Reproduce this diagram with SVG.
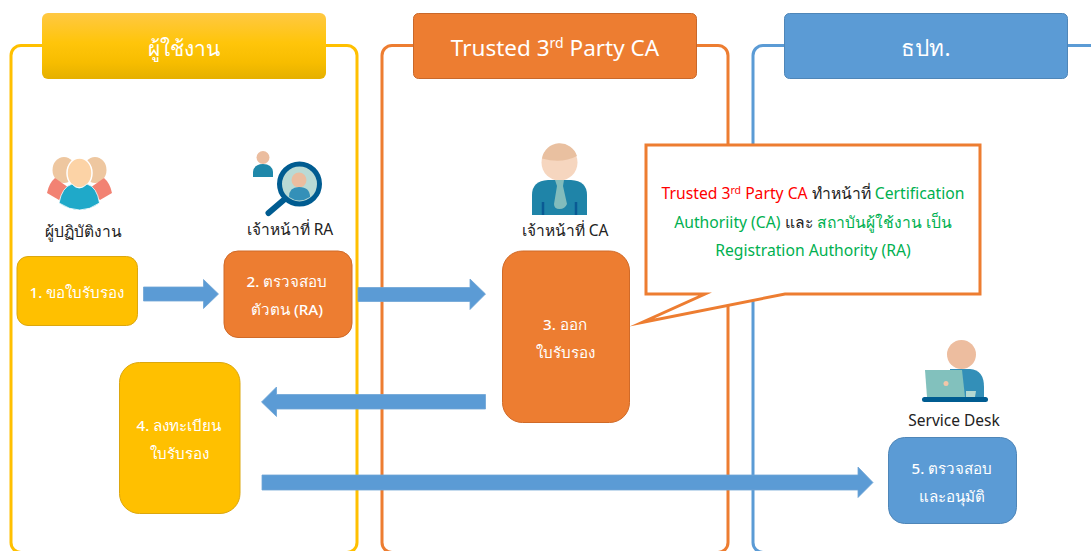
<svg xmlns="http://www.w3.org/2000/svg" width="1091" height="551" viewBox="0 0 1091 551">
<style>
text{font-family:"Noto Sans","Liberation Sans","DejaVu Sans",sans-serif;text-anchor:middle}
.panel{fill:none;stroke-width:3}
.hd{font-size:22.500px;fill:#fff}
.box{font-size:15.200px;fill:#fff;font-weight:500}
.lbl{font-size:15.500px;fill:#222}
.arrow{fill:#5b9bd5;stroke:#6fa4d6;stroke-width:.8}
.y{fill:#ffc000;stroke:#dca70e;stroke-width:1}
.o{fill:#ed7d31;stroke:#d06a28;stroke-width:1}
.b{fill:#5b9bd5;stroke:#4f86b8;stroke-width:1}
.call{font-size:15.700px}
.r{fill:#ff0000}.g{fill:#00b050}.k{fill:#222}
</style>
<defs>
<linearGradient id="gy" x1="0" y1="0" x2="0" y2="1"><stop offset="0" stop-color="#ffc843"/><stop offset=".45" stop-color="#ffc50a"/><stop offset=".75" stop-color="#f7bd00"/><stop offset="1" stop-color="#e5b000"/></linearGradient>
</defs>
<rect width="1091" height="551" fill="#fff"/>
<g id="lane-user">
<rect class="panel" x="11" y="45.500" width="346" height="507" rx="10" stroke="#ffc000"/>
<rect x="42" y="13" width="284" height="66" rx="6" fill="url(#gy)"/>
<text class="hd" x="184" y="56" font-size="21" style="font-size:21px;font-weight:500">ผู้ใช้งาน</text>
</g>
<g id="lane-ca">
<rect class="panel" x="382" y="45.500" width="346" height="507" rx="10" stroke="#ed7d31"/>
<rect x="413.500" y="13.500" width="283" height="65" rx="5" fill="#ed7d31" stroke="#c9682a"/>
<text class="hd" x="555" y="56">Trusted 3<tspan font-size="14" dy="-8">rd</tspan><tspan dy="8"> Party CA</tspan></text>
</g>
<g id="lane-bot">
<rect class="panel" x="753" y="45.500" width="400" height="507" rx="10" stroke="#5b9bd5"/>
<rect x="784.500" y="13.500" width="283" height="65" rx="5" fill="#5b9bd5" stroke="#4f86b8"/>
<text class="hd" x="926" y="56">ธปท.</text>
</g>
<g id="connectors">
<path class="arrow" d="M143.500 287H203.500V279.500L218.500 294L203.500 308.500V301H143.500Z"/>
<path class="arrow" d="M358 287.500H470V279L485.500 294L470 309.500V301.500H358Z"/>
<path class="arrow" d="M485.500 394.500H276.500V387L261.500 402L276.500 416.500V409H485.500Z"/>
<path class="arrow" d="M262 475H858V467L873 482.500L858 497.500V490H262Z"/>
</g>
<g id="user-icon">
<ellipse cx="64" cy="170" rx="11.500" ry="13" fill="#eec7a0"/><ellipse cx="95" cy="170" rx="11.500" ry="13" fill="#eec7a0"/>
<path d="M47 193Q49 183 55 178L72 190L59 200Z" fill="#f28273"/>
<path d="M112 193Q110 183 104 178L87 190L100 200Z" fill="#f28273"/>
<ellipse cx="79.500" cy="173" rx="12.500" ry="15" fill="#fcd3a6" stroke="#fff" stroke-width="1.500"/>
<path d="M59 203Q62 187 72 184Q79 192 87 184Q97 187 99.500 203Q80 217 59 203Z" fill="#1fa9c9" stroke="#fff" stroke-width=".8"/>
</g>
<g id="ra-icon">
<circle cx="263" cy="157.500" r="6.500" fill="#ebbd9f"/>
<path d="M253 177V172Q254 164 263 164Q272 164 273 172V177Z" fill="#1f88aa"/>
<path d="M286 198L268.500 213" stroke="#005c91" stroke-width="6" stroke-linecap="round"/>
<circle cx="299.500" cy="184" r="20" fill="#b9dad5" stroke="#005c91" stroke-width="5"/>
<circle cx="299" cy="180" r="7.500" fill="#ebbd9f"/>
<path d="M289 197Q289 187 299 187Q310 187 310 197Q299 204 289 197Z" fill="#3490b8"/>
</g>
<g id="ca-icon">
<circle cx="559.500" cy="162.500" r="18" fill="#f6d6bf"/>
<path d="M542 158.500A18 18 0 0 1 577 156Q562 164 542 158.500Z" fill="#e9c0a0"/>
<path d="M532 215V195Q532 181 548 180H571Q587 181 587 195V215Z" fill="#1f84a8"/>
<path d="M555 180H564L563 186L567 204Q565 209 559.500 209Q554 209 554 204L557 186Z" fill="#82bcbc"/>
<path d="M543 202V215M576 202V215" stroke="#0a5a94" stroke-width="2.500"/>
</g>
<g id="sd-icon">
<circle cx="961.500" cy="354.500" r="14.500" fill="#edbd9f"/>
<path d="M950 369H970Q984 370 984 387V398H950Z" fill="#338fb8"/>
<path d="M925 370H962L965 397H927Z" fill="#82c1bd"/>
<path d="M966 391H976L975 397H966Z" fill="#b4d8d2"/>
<circle cx="946" cy="383.500" r="2.500" fill="#f3c6a8"/>
<rect x="922" y="397" width="66" height="5" rx="2.500" fill="#005c91"/>
</g>
<g id="n1"><text class="lbl" x="83" y="237">ผู้ปฏิบัติงาน</text>
<rect class="y" x="17" y="256.500" width="120.500" height="69" rx="11"/><text class="box" x="77" y="298">1. ขอใบรับรอง</text></g>
<g id="n2"><text class="lbl" x="290" y="235">เจ้าหน้าที่ RA</text>
<rect class="o" x="224" y="251" width="128" height="86.500" rx="14"/><text class="box" x="287" y="287">2. ตรวจสอบ</text><text class="box" x="287" y="315">ตัวตน (RA)</text></g>
<g id="n3"><text class="lbl" x="565" y="236">เจ้าหน้าที่ CA</text>
<rect class="o" x="502.500" y="251" width="127" height="171.500" rx="20"/><text class="box" x="565" y="330">3. ออก</text><text class="box" x="565" y="358">ใบรับรอง</text></g>
<g id="n4"><rect class="y" x="119.500" y="362.500" width="120.500" height="151" rx="20"/><text class="box" x="179" y="431">4. ลงทะเบียน</text><text class="box" x="179" y="459">ใบรับรอง</text></g>
<g id="n5"><text class="lbl" x="954" y="426">Service Desk</text>
<rect class="b" x="888.500" y="437.500" width="128" height="86" rx="16"/><text class="box" x="952" y="474">5. ตรวจสอบ</text><text class="box" x="952" y="502">และอนุมัติ</text></g>
<g id="callout">
<path d="M646 145H980V294H785L642 322.500L705 294H646Z" fill="#fff" stroke="#ed7d31" stroke-width="3" stroke-miterlimit="20"/>
<text class="call" x="813" y="199"><tspan class="r">Trusted 3</tspan><tspan class="r" font-size="10.500" dy="-5">rd</tspan><tspan class="r" dy="5"> Party CA </tspan><tspan class="k">ทำหน้าที่ </tspan><tspan class="g">Certification</tspan></text>
<text class="call" x="813" y="228"><tspan class="g">Authoriity (CA) </tspan><tspan class="k">และ </tspan><tspan class="g">สถาบันผู้ใช้งาน เป็น</tspan></text>
<text class="call g" x="813" y="256">Registration Authority (RA)</text>
</g>
</svg>
